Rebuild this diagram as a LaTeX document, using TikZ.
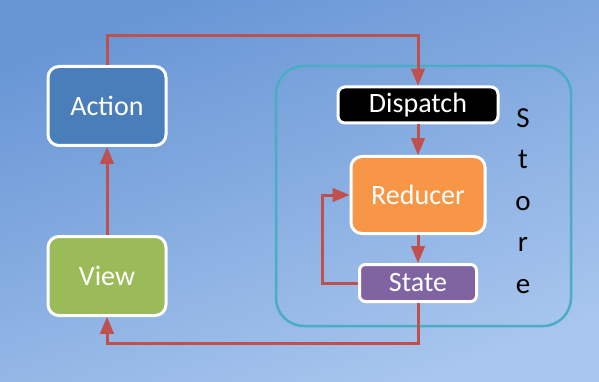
\documentclass[tikz,border=0pt]{standalone}
\usepackage{fontspec}
\setmainfont{Carlito}
\usepackage{xcolor}
\definecolor{colorBgTop}{RGB}{104,150,213}
\definecolor{colorBgBottom}{RGB}{168,198,238}
\definecolor{colorAction}{RGB}{74,126,187}
\definecolor{colorView}{RGB}{155,187,89}
\definecolor{colorReducer}{RGB}{247,150,70}
\definecolor{colorState}{RGB}{128,100,162}
\definecolor{colorStore}{RGB}{75,172,198}
\definecolor{colorFlow}{RGB}{192,80,77}
\usetikzlibrary{arrows, positioning}
\tikzset{
  box/.style={draw=white, line width=3pt, rounded corners=11pt, text=white,
    font=\fontsize{28}{30}\selectfont, inner sep=0pt},
  flow/.style={->, draw=colorFlow, line width=3pt}
}

\begin{document}
\begin{tikzpicture}[x=1pt, y=-1pt, >=triangle 45, node distance=88pt]
% background
\shade[top color=colorBgTop, bottom color=colorBgBottom, shading angle=20]
  (0,0) rectangle (599,382);
\useasboundingbox (0,0) rectangle (599,382);

% store frame
\node[draw=colorStore, line width=2.5pt, rounded corners=28pt,
  minimum width=295pt, minimum height=260pt] (store) at (423.5,196) {};
\node[align=center, font=\fontsize{29}{41.5}\selectfont] (storetext) at (523,201)
  {S\\t\\o\\r\\e};

% left column
\node[box, fill=colorAction, minimum width=118pt, minimum height=79pt] (action) at (107,106) {Action};
\node[box, fill=colorView, minimum width=118pt, minimum height=79pt, below=of action] (view) {View};

% store contents
\node[box, fill=black, rounded corners=7pt, minimum width=160pt, minimum height=36pt] (dispatch) at (418,105) {Dispatch};
\node[box, fill=colorReducer, minimum width=134pt, minimum height=77pt] (reducer) at (418,195) {Reducer};
\node[box, fill=colorState, rounded corners=6pt, minimum width=117pt, minimum height=37pt] (state) at (418,283) {State};

% data flow
\draw[flow] (action.north) -- ++(0,-29) -| (dispatch.north);
\draw[flow] (dispatch) -- (reducer);
\draw[flow] (reducer) -- (state);
\draw[flow] (state.west) -- ++(-36,0) |- (reducer.west);
\draw[flow] (state.south) -- ++(0,40) -| (view.south);
\draw[flow] (view) -- (action);
\end{tikzpicture}
\end{document}
